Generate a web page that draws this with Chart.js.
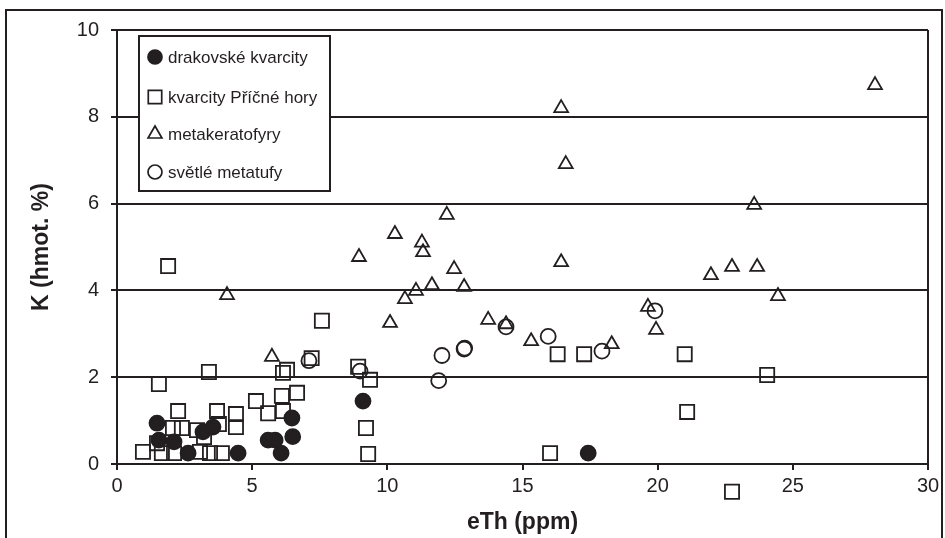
<!DOCTYPE html>
<html>
<head>
<meta charset="utf-8">
<script src="https://cdn.jsdelivr.net/npm/chart.js@4"></script>
<style>
  body { margin: 0; background: #fff; }
</style>
</head>
<body>
<canvas id="c" width="945" height="538"></canvas>
<script>
var seriesNames = ["drakovské kvarcity", "kvarcity Příčné hory", "metakeratofyry", "světlé metatufy"];

var drakovske = [
    [1.48, 0.94], [1.55, 0.55], [2.11, 0.51], [2.63, 0.25], [3.18, 0.74], [3.55, 0.85],
    [4.48, 0.25], [5.59, 0.55], [5.85, 0.55], [6.07, 0.25], [6.47, 1.06], [6.5, 0.63],
    [9.1, 1.45], [17.43, 0.25]
];

var pricneHory = [
    [0.96, 0.28], [1.48, 0.48], [1.55, 1.84], [1.66, 0.25], [1.89, 4.56], [2.07, 0.83],
    [2.11, 0.25], [2.26, 1.22], [2.4, 0.83], [2.96, 0.78], [3.07, 0.28], [3.22, 0.62],
    [3.4, 2.12], [3.44, 0.25], [3.7, 1.22], [3.77, 0.92], [3.88, 0.25], [4.4, 1.15],
    [4.4, 0.85], [5.14, 1.45], [5.59, 1.17], [6.1, 1.57], [6.14, 1.22], [6.14, 2.1],
    [6.29, 2.17], [6.66, 1.64], [7.2, 2.44], [7.58, 3.3], [8.92, 2.24], [9.21, 0.83],
    [9.29, 0.23], [9.36, 1.94], [16.02, 0.25], [16.3, 2.53], [17.28, 2.53], [21.0, 2.53],
    [21.09, 1.2], [22.75, -0.64], [24.05, 2.05]
];

var metakeratofyry = [
    [4.07, 3.89], [5.73, 2.47], [8.95, 4.77], [10.1, 3.25], [10.28, 5.3], [10.65, 3.8],
    [11.06, 3.99], [11.28, 5.1], [11.32, 4.88], [11.65, 4.12], [12.2, 5.74], [12.47, 4.49],
    [12.84, 4.08], [13.73, 3.32], [14.39, 3.22], [15.32, 2.83], [16.43, 8.2], [16.6, 6.91],
    [16.43, 4.65], [18.3, 2.76], [19.64, 3.62], [19.94, 3.09], [21.97, 4.35], [22.75, 4.54],
    [23.57, 5.97], [23.68, 4.54], [24.45, 3.87], [28.04, 8.73]
];

var metatufy = [
    [7.1, 2.38], [8.99, 2.14], [11.9, 1.92], [12.02, 2.5], [12.84, 2.65], [12.86, 2.67],
    [14.39, 3.16], [15.95, 2.94], [17.94, 2.6], [19.9, 3.53]
];

var xTicks = [0, 5, 10, 15, 20, 25, 30];
var yTicks = [0, 2, 4, 6, 8, 10];

var ink = "#231f20";
var fontFamily = "'Liberation Sans', Arial, Helvetica, sans-serif";

function toPoints(arr) {
    return arr.map(function (p) { return { x: p[0], y: p[1] }; });
}

// marker looks, shared by plot and legend
var styles = [
    { pointStyle: "circle", radius: 7.5, legendRadius: 7, fill: ink },
    { pointStyle: "rect", radius: 10, legendRadius: 9.5, fill: "rgba(0,0,0,0)" },
    { pointStyle: "triangle", radius: 8, legendRadius: 8, fill: "rgba(0,0,0,0)" },
    { pointStyle: "circle", radius: 7.5, legendRadius: 7, fill: "rgba(0,0,0,0)" }
];
var seriesData = [drakovske, pricneHory, metakeratofyry, metatufy];

var datasets = seriesData.map(function (d, i) {
    return {
        label: seriesNames[i],
        data: toPoints(d),
        pointStyle: styles[i].pointStyle,
        pointRadius: styles[i].radius,
        pointHoverRadius: styles[i].radius,
        pointBackgroundColor: styles[i].fill,
        pointBorderColor: ink,
        pointBorderWidth: 1.8,
        showLine: false,
        clip: false
    };
});

var framePlugin = {
    id: "frame",
    beforeDraw(chart) {
        var ctx = chart.ctx;
        ctx.save();
        ctx.fillStyle = "#fff";
        ctx.fillRect(0, 0, chart.width, chart.height);
        ctx.strokeStyle = ink;
        ctx.lineWidth = 2;
        ctx.strokeRect(6, 10, 936, 540);
        ctx.restore();
    },
    afterDatasetsDraw(chart) {
        var ctx = chart.ctx;
        var a = chart.chartArea;
        var whole = { left: 0, top: 0, right: chart.width, bottom: chart.height };

        // points that fall outside the axis range (Chart.js skips them)
        chart.data.datasets.forEach(function (ds, i) {
            chart.getDatasetMeta(i).data.forEach(function (el) {
                if (el.y > a.bottom || el.y < a.top) el.draw(ctx, whole);
            });
        });

        ctx.save();
        ctx.strokeStyle = ink;
        ctx.lineWidth = 2;
        ctx.beginPath();
        ctx.moveTo(a.right, a.top);
        ctx.lineTo(a.right, a.bottom);
        ctx.stroke();

        // legend box
        var bx = 139, by = 36, bw = 191, bh = 155;
        ctx.fillStyle = "#fff";
        ctx.fillRect(bx, by, bw, bh);
        ctx.lineWidth = 2;
        ctx.strokeRect(bx, by, bw, bh);
        var rows = [57, 97, 134, 172];
        ctx.font = "17px " + fontFamily;
        ctx.textBaseline = "middle";
        for (var i = 0; i < seriesNames.length; i++) {
            ctx.fillStyle = styles[i].fill;
            ctx.strokeStyle = ink;
            ctx.lineWidth = 1.7;
            Chart.helpers.drawPoint(ctx, {
                pointStyle: styles[i].pointStyle,
                radius: styles[i].legendRadius,
                rotation: 0,
                borderWidth: 1.7
            }, 155, rows[i]);
            ctx.fillStyle = ink;
            ctx.fillText(seriesNames[i], 168, rows[i] + 1);
        }
        ctx.restore();
    }
};

var ctx = document.getElementById("c").getContext("2d");
var chart = new Chart(ctx, {
    type: "scatter",
    data: { datasets: datasets },
    options: {
        responsive: false,
        animation: false,
        layout: { padding: { left: 0, right: 17, top: 30, bottom: 0 } },
        plugins: {
            legend: { display: false },
            tooltip: { enabled: false }
        },
        scales: {
            x: {
                type: "linear",
                min: 0,
                max: 30,
                afterBuildTicks(scale) {
                    scale.ticks = xTicks.map(function (v) { return { value: v }; });
                },
                afterFit(scale) { scale.height = 74; },
                grid: {
                    drawOnChartArea: false,
                    drawTicks: true,
                    tickLength: 6,
                    color: ink,
                    lineWidth: 2
                },
                border: { color: ink, width: 2 },
                ticks: {
                    color: ink,
                    padding: 4,
                    maxRotation: 0,
                    font: { family: fontFamily, size: 20 }
                },
                title: {
                    display: true,
                    text: "eTh (ppm)",
                    color: ink,
                    padding: { top: 0, bottom: 2 },
                    font: { family: fontFamily, size: 23, weight: "bold" }
                }
            },
            y: {
                type: "linear",
                min: 0,
                max: 10,
                afterBuildTicks(scale) {
                    scale.ticks = yTicks.map(function (v) { return { value: v }; });
                },
                afterFit(scale) { scale.width = 117; },
                grid: {
                    drawOnChartArea: true,
                    drawTicks: true,
                    tickLength: 6,
                    color: ink,
                    lineWidth: 2
                },
                border: { color: ink, width: 2 },
                ticks: {
                    color: ink,
                    padding: 12,
                    font: { family: fontFamily, size: 20 }
                },
                title: {
                    display: true,
                    text: "K (hmot. %)",
                    color: ink,
                    padding: { top: 28, bottom: 0 },
                    font: { family: fontFamily, size: 23, weight: "bold" }
                }
            }
        }
    },
    plugins: [framePlugin]
});
</script>
</body>
</html>
